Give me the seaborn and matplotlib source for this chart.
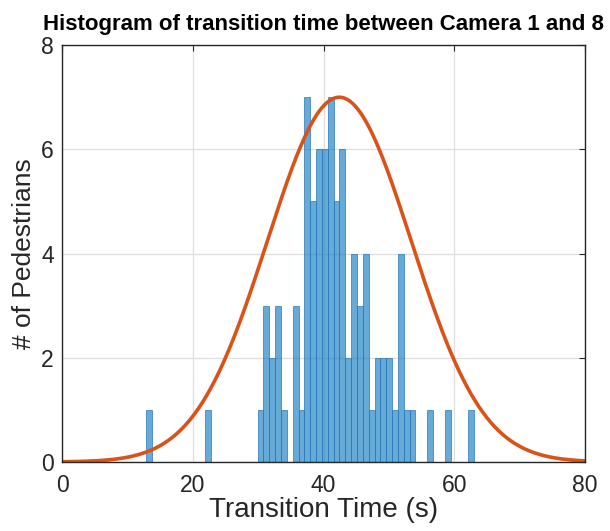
import matplotlib
matplotlib.use('Agg')
import matplotlib.pyplot as plt
import numpy as np
import pandas as pd
import seaborn as sns

# histogram: 56 bins, counts per bin index
bin_start = 12.89
bin_width = 0.895
n_bins = 56
bin_index = [0, 10, 19, 20, 21, 22, 23, 25, 26, 27, 28, 29, 30, 31, 32, 33, 34,
             35, 36, 37, 38, 39, 40, 41, 42, 43, 44, 45, 48, 51, 55]
counts = [1, 1, 1, 3, 2, 3, 1, 3, 1, 7, 5, 6, 6, 7, 5, 6, 2,
          4, 3, 4, 1, 2, 2, 2, 1, 4, 1, 1, 1, 1, 1]

# fitted normal curve
fit_mu = 42.4
fit_sigma = 11.0
fit_peak = 7.0

centers = bin_start + bin_width * (np.array(bin_index) + 0.5)
df = pd.DataFrame({'time': centers, 'count': counts})

xs = np.linspace(0, 80, 400)
curve = pd.DataFrame({'x': xs, 'y': fit_peak * np.exp(-(xs - fit_mu) ** 2 / (2 * fit_sigma ** 2))})

sns.set_style('white')
plt.rcParams['font.family'] = ['Liberation Sans', 'DejaVu Sans']

fig = plt.figure(figsize=(6.1, 5.31), dpi=100)
ax = fig.add_axes([0.102, 0.130, 0.857, 0.785])

sns.histplot(data=df, x='time', weights='count', binwidth=bin_width,
             binrange=(bin_start, bin_start + n_bins * bin_width), color='#0072BD',
             alpha=0.6, edgecolor='#2a78b8', linewidth=0.5, ax=ax)
sns.lineplot(data=curve, x='x', y='y', color='#D95319', linewidth=2.6, ax=ax)

ax.set_xlim(0, 80)
ax.set_ylim(0, 8)
ax.set_xticks([0, 20, 40, 60, 80])
ax.set_yticks([0, 2, 4, 6, 8])
ax.grid(True, color='#dedede', linewidth=0.9)
ax.set_axisbelow(True)
for s in ax.spines.values():
    s.set_color('#262626')
    s.set_linewidth(1.0)
    s.set_visible(True)
ax.tick_params(direction='in', length=4, width=0.8, colors='#262626',
               labelsize=16.5, top=True, right=True)
ax.tick_params(axis='x', pad=9)
ax.tick_params(axis='y', pad=6)
ax.set_xlabel('Transition Time (s)', fontsize=20, color='#262626', labelpad=0)
ax.set_ylabel('# of Pedestrians', fontsize=19, color='#262626', labelpad=4)
ax.set_title('Histogram of transition time between Camera 1 and 8',
             fontsize=16, fontweight='bold', color='black', pad=11)

fig.savefig('out.png', dpi=100)
